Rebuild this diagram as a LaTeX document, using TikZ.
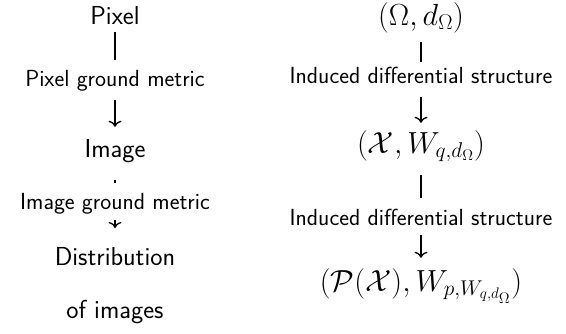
\RequirePackage{fix-cm}
\documentclass[tikz,border=0pt]{standalone}
\usepackage{amsmath}
\usepackage{tikz}
\usetikzlibrary{arrows.meta,positioning,calc}
\tikzset{
  obj/.style={anchor=base, inner sep=0pt, text height=18pt, text depth=0pt,
              font=\fontsize{26}{31}\selectfont\sffamily},
  space/.style={obj, font=\fontsize{30.5}{36}\selectfont},
  lbl/.style={anchor=base, inner sep=0pt, text height=16pt, text depth=0pt,
              font=\fontsize{23.3}{28}\selectfont\sffamily},
  bar/.style={line width=1.3pt},
  arr/.style={-{To[length=6pt,width=13pt]}, line width=1.3pt}
}

\begin{document}
\begin{tikzpicture}[x=1pt,y=-1pt]
\useasboundingbox (0,0) rectangle (566,333);
% left: pixels to images
\node[obj] (pix) at (115,24) {Pixel};
\node[lbl] (pgm) at (115,86) {Pixel ground metric};
\node[obj] (img) at (115,157) {Image};
\node[lbl] (igm) at (115,209) {Image ground metric};
\node[anchor=north, inner sep=0pt, align=center, font=\fontsize{26}{31}\selectfont\sffamily]
  (dist) at (115,247) {Distribution\\[22pt]of images};
\draw[bar, shorten <=8pt, shorten >=10pt] (pix.south) -- (pgm.north);
\draw[arr, shorten <=14pt, shorten >=12pt] (pgm.south) -- (img.north);
\draw[bar, shorten <=23pt, shorten >=10pt] (img.south) -- (igm.north);
\draw[arr, shorten <=11pt, shorten >=19pt] (igm.south) -- (dist.north);
% right: metric spaces
\node[space] (omg) at (421,25) {$(\Omega, d_\Omega)$};
\node[lbl] (ids1) at (421,83) {Induced differential structure};
\node[space] (cx) at (421,153) {$(\mathcal{X}, W_{q,d_\Omega})$};
\node[lbl] (ids2) at (421,225) {Induced differential structure};
\node[space] (px) at (421,291) {$(\mathcal{P}(\mathcal{X}), W_{p,W_{q,d_\Omega}})$};
\draw[bar, shorten <=17pt, shorten >=5pt] (omg.south) -- (ids1.north);
\draw[arr, shorten <=14pt, shorten >=12pt] (ids1.south) -- (cx.north);
\draw[bar, shorten <=22pt, shorten >=11pt] (cx.south) -- (ids2.north);
\draw[arr, shorten <=10pt, shorten >=15pt] (ids2.south) -- (px.north);
\end{tikzpicture}
\end{document}
